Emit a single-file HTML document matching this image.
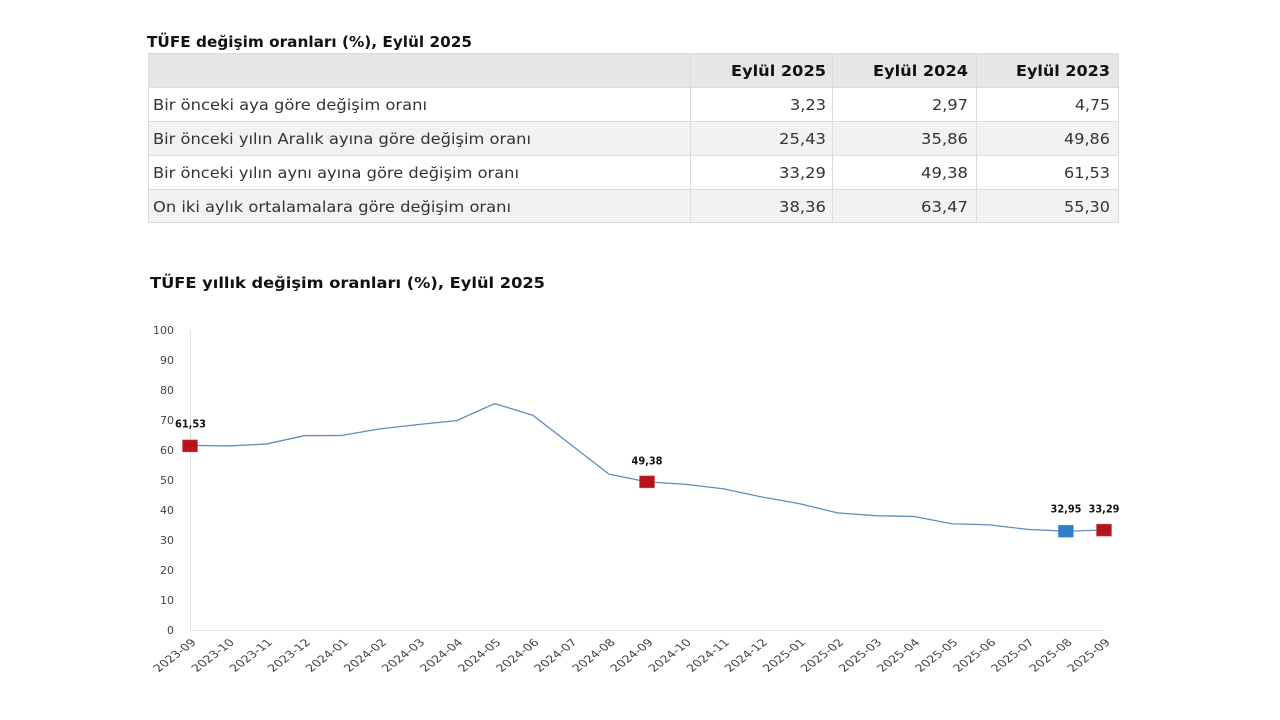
<!DOCTYPE html>
<html>
<head>
<meta charset="utf-8">
<style>
html,body{margin:0;padding:0;background:#fff;}
svg{display:block;}
text{font-family:"DejaVu Sans","Liberation Sans",Arial,sans-serif;}
</style>
</head>
<body>
<svg width="1280" height="720" viewBox="0 0 1280 720" xmlns="http://www.w3.org/2000/svg">
<rect x="0" y="0" width="1280" height="720" fill="#fff"/>

<!-- Table title -->
<text x="147" y="47" font-size="15" font-weight="bold" fill="#111" textLength="325" lengthAdjust="spacingAndGlyphs">TÜFE değişim oranları (%), Eylül 2025</text>

<!-- Table backgrounds -->
<rect x="148" y="53" width="971" height="34" fill="#e6e6e6"/>
<rect x="148" y="87" width="971" height="34" fill="#ffffff"/>
<rect x="148" y="121" width="971" height="34" fill="#f2f2f2"/>
<rect x="148" y="155" width="971" height="34" fill="#ffffff"/>
<rect x="148" y="189" width="971" height="34" fill="#f2f2f2"/>

<!-- Table borders -->
<g stroke="#dcdcdc" stroke-width="1" fill="none">
  <rect x="148.5" y="53.5" width="970" height="169"/>
  <line x1="148" y1="87.5" x2="1119" y2="87.5"/>
  <line x1="148" y1="121.5" x2="1119" y2="121.5"/>
  <line x1="148" y1="155.5" x2="1119" y2="155.5"/>
  <line x1="148" y1="189.5" x2="1119" y2="189.5"/>
  <line x1="690.5" y1="53" x2="690.5" y2="223"/>
  <line x1="832.5" y1="53" x2="832.5" y2="223"/>
  <line x1="976.5" y1="53" x2="976.5" y2="223"/>
</g>

<!-- Header -->
<text x="731" y="76" font-size="15" font-weight="bold" fill="#111" textLength="95" lengthAdjust="spacingAndGlyphs">Eylül 2025</text>
<text x="873" y="76" font-size="15" font-weight="bold" fill="#111" textLength="95" lengthAdjust="spacingAndGlyphs">Eylül 2024</text>
<text x="1016" y="76" font-size="15" font-weight="bold" fill="#111" textLength="94" lengthAdjust="spacingAndGlyphs">Eylül 2023</text>

<!-- Row labels -->
<g font-size="15" fill="#333">
<text x="153" y="110" textLength="274" lengthAdjust="spacingAndGlyphs">Bir önceki aya göre değişim oranı</text>
<text x="153" y="144" textLength="378" lengthAdjust="spacingAndGlyphs">Bir önceki yılın Aralık ayına göre değişim oranı</text>
<text x="153" y="178" textLength="366" lengthAdjust="spacingAndGlyphs">Bir önceki yılın aynı ayına göre değişim oranı</text>
<text x="153" y="212" textLength="358" lengthAdjust="spacingAndGlyphs">On iki aylık ortalamalara göre değişim oranı</text>

<!-- Numbers -->
<text x="790" y="110" textLength="36" lengthAdjust="spacingAndGlyphs">3,23</text>
<text x="932" y="110" textLength="36" lengthAdjust="spacingAndGlyphs">2,97</text>
<text x="1075" y="110" textLength="35" lengthAdjust="spacingAndGlyphs">4,75</text>

<text x="779" y="144" textLength="47" lengthAdjust="spacingAndGlyphs">25,43</text>
<text x="921" y="144" textLength="47" lengthAdjust="spacingAndGlyphs">35,86</text>
<text x="1064" y="144" textLength="46" lengthAdjust="spacingAndGlyphs">49,86</text>

<text x="779" y="178" textLength="47" lengthAdjust="spacingAndGlyphs">33,29</text>
<text x="921" y="178" textLength="47" lengthAdjust="spacingAndGlyphs">49,38</text>
<text x="1064" y="178" textLength="46" lengthAdjust="spacingAndGlyphs">61,53</text>

<text x="779" y="212" textLength="47" lengthAdjust="spacingAndGlyphs">38,36</text>
<text x="921" y="212" textLength="47" lengthAdjust="spacingAndGlyphs">63,47</text>
<text x="1064" y="212" textLength="46" lengthAdjust="spacingAndGlyphs">55,30</text>
</g>

<!-- Chart title -->
<text x="150" y="288" font-size="15" font-weight="bold" fill="#111" textLength="395" lengthAdjust="spacingAndGlyphs">TÜFE yıllık değişim oranları (%), Eylül 2025</text>

<!-- Axes -->
<line x1="190.5" y1="330" x2="190.5" y2="630" stroke="#e0e0e0" stroke-width="1"/>
<line x1="190" y1="630.5" x2="1104" y2="630.5" stroke="#e0e0e0" stroke-width="1"/>

<!-- Y labels -->
<g font-size="11" fill="#444" text-anchor="end">
<text x="174" y="334">100</text>
<text x="174" y="364">90</text>
<text x="174" y="394">80</text>
<text x="174" y="424">70</text>
<text x="174" y="454">60</text>
<text x="174" y="484">50</text>
<text x="174" y="514">40</text>
<text x="174" y="544">30</text>
<text x="174" y="574">20</text>
<text x="174" y="604">10</text>
<text x="174" y="634">0</text>
</g>

<!-- X labels -->
<g font-size="10" fill="#444" text-anchor="end">
<text transform="translate(197,643) scale(1.3,1) rotate(-45)">2023-09</text>
<text transform="translate(235.08,643) scale(1.3,1) rotate(-45)">2023-10</text>
<text transform="translate(273.17,643) scale(1.3,1) rotate(-45)">2023-11</text>
<text transform="translate(311.25,643) scale(1.3,1) rotate(-45)">2023-12</text>
<text transform="translate(349.33,643) scale(1.3,1) rotate(-45)">2024-01</text>
<text transform="translate(387.42,643) scale(1.3,1) rotate(-45)">2024-02</text>
<text transform="translate(425.5,643) scale(1.3,1) rotate(-45)">2024-03</text>
<text transform="translate(463.58,643) scale(1.3,1) rotate(-45)">2024-04</text>
<text transform="translate(501.67,643) scale(1.3,1) rotate(-45)">2024-05</text>
<text transform="translate(539.75,643) scale(1.3,1) rotate(-45)">2024-06</text>
<text transform="translate(577.83,643) scale(1.3,1) rotate(-45)">2024-07</text>
<text transform="translate(615.92,643) scale(1.3,1) rotate(-45)">2024-08</text>
<text transform="translate(654,643) scale(1.3,1) rotate(-45)">2024-09</text>
<text transform="translate(692.08,643) scale(1.3,1) rotate(-45)">2024-10</text>
<text transform="translate(730.17,643) scale(1.3,1) rotate(-45)">2024-11</text>
<text transform="translate(768.25,643) scale(1.3,1) rotate(-45)">2024-12</text>
<text transform="translate(806.33,643) scale(1.3,1) rotate(-45)">2025-01</text>
<text transform="translate(844.42,643) scale(1.3,1) rotate(-45)">2025-02</text>
<text transform="translate(882.5,643) scale(1.3,1) rotate(-45)">2025-03</text>
<text transform="translate(920.58,643) scale(1.3,1) rotate(-45)">2025-04</text>
<text transform="translate(958.67,643) scale(1.3,1) rotate(-45)">2025-05</text>
<text transform="translate(996.75,643) scale(1.3,1) rotate(-45)">2025-06</text>
<text transform="translate(1034.83,643) scale(1.3,1) rotate(-45)">2025-07</text>
<text transform="translate(1072.92,643) scale(1.3,1) rotate(-45)">2025-08</text>
<text transform="translate(1111,643) scale(1.3,1) rotate(-45)">2025-09</text>
</g>

<!-- Line -->
<polyline fill="none" stroke="#5f8dc0" stroke-width="1.3" stroke-linejoin="round"
points="190,445.41 228.08,445.92 266.17,444.06 304.25,435.69 342.33,435.42 380.42,428.79 418.5,424.5 456.58,420.6 494.67,403.65 532.75,415.2 570.83,444.66 608.92,474.09 647,481.86 685.08,484.26 723.17,488.73 761.25,496.86 799.33,503.64 837.42,512.85 875.5,515.7 913.58,516.42 951.67,523.77 989.75,524.85 1027.83,529.44 1065.92,531.15 1104,530.13"/>

<!-- Markers -->
<rect x="182.5" y="439.9" width="15" height="12" fill="#b5141c" stroke="#d05050" stroke-width="0.5"/>
<rect x="639.5" y="475.9" width="15" height="12" fill="#b5141c" stroke="#d05050" stroke-width="0.5"/>
<rect x="1058.4" y="525.2" width="15" height="12" fill="#2f7fc6" stroke="#5a9bd5" stroke-width="0.5"/>
<rect x="1096.5" y="524.1" width="15" height="12" fill="#b5141c" stroke="#d05050" stroke-width="0.5"/>

<!-- Data labels -->
<g font-size="11" font-weight="bold" fill="#111">
<text x="175" y="427.5" textLength="31" lengthAdjust="spacingAndGlyphs" font-family="Liberation Sans, Arial, sans-serif">61,53</text>
<text x="631.5" y="464.5" textLength="31" lengthAdjust="spacingAndGlyphs" font-family="Liberation Sans, Arial, sans-serif">49,38</text>
<text x="1050.5" y="512.5" textLength="31" lengthAdjust="spacingAndGlyphs" font-family="Liberation Sans, Arial, sans-serif">32,95</text>
<text x="1088.5" y="512.5" textLength="31" lengthAdjust="spacingAndGlyphs" font-family="Liberation Sans, Arial, sans-serif">33,29</text>
</g>
</svg>
</body>
</html>
